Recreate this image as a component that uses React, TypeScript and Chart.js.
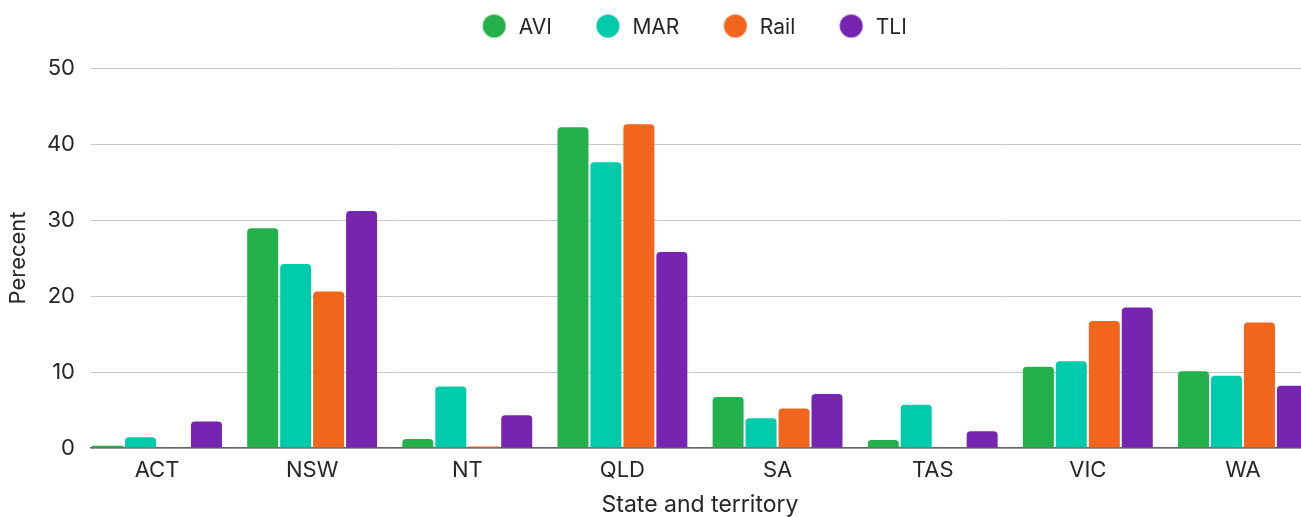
import React, { useEffect, useRef } from "react";
import { Chart, registerables } from "chart.js";

Chart.register(...registerables);

const categories = ["ACT", "NSW", "NT", "QLD", "SA", "TAS", "VIC", "WA"];
const seriesNames = ["AVI", "MAR", "Rail", "TLI"];
const aviValues = [0.3, 28.9, 1.2, 42.2, 6.7, 1.05, 10.7, 10.1];
const marValues = [1.4, 24.2, 8.1, 37.6, 3.9, 5.7, 11.4, 9.5];
const railValues = [0, 20.6, 0.2, 42.6, 5.2, 0, 16.7, 16.5];
const tliValues = [3.5, 31.2, 4.3, 25.8, 7.1, 2.2, 18.5, 8.2];
const seriesColors = ["#24b04a", "#00cbab", "#f1651d", "#7525b0"];
const yTicks = [0, 10, 20, 30, 40, 50];

const FONT = "Inter, 'Noto Sans', sans-serif";
const TEXT = "#262626";

function makeDot(color: string) {
  const c = document.createElement("canvas");
  c.width = 60;
  c.height = 28;
  const ctx = c.getContext("2d")!;
  ctx.fillStyle = color;
  ctx.beginPath();
  ctx.arc(46, 12.5, 11.5, 0, Math.PI * 2);
  ctx.fill();
  return c;
}

const legendTweak = {
  id: "legendTweak",
  beforeUpdate(chart: any) {
    const lg = chart.legend;
    if (lg && !lg.__patched) {
      const orig = Object.getPrototypeOf(lg).fit;
      lg.fit = function () {
        orig.call(this);
        this.height += 20;
      };
      lg.__patched = true;
    }
  },
  afterLayout(chart: any) {
    const lg = chart.legend;
    if (lg) {
      lg.left += 23;
      lg.right += 23;
    }
  },
};

export default function App() {
  const ref = useRef<HTMLCanvasElement | null>(null);

  useEffect(() => {
    if (!ref.current) return;
    const allValues = [aviValues, marValues, railValues, tliValues];
    const dots = seriesColors.map(makeDot);
    const chart = new Chart(ref.current, {
      type: "bar",
      data: {
        datasets: seriesNames.map((name, i) => ({
          label: name,
          data: allValues[i].map((v, j) => ({ x: j, y: v })),
          backgroundColor: seriesColors[i],
          borderWidth: 0,
          borderRadius: { topLeft: 4, topRight: 4, bottomLeft: 0, bottomRight: 0 },
          borderSkipped: "bottom",
          categoryPercentage: 0.85,
          barPercentage: 0.94,
        })),
      },
      plugins: [legendTweak],
      options: {
        animation: false,
        responsive: true,
        maintainAspectRatio: false,
        layout: { padding: { top: 7, right: 0, bottom: 0, left: 0 } },
        plugins: {
          legend: {
            position: "top",
            labels: {
              usePointStyle: true,
              pointStyleWidth: 60,
              boxHeight: 21,
              padding: 10,
              color: TEXT,
              font: { family: FONT, size: 21 },
              generateLabels: (c: any) =>
                Chart.defaults.plugins.legend.labels
                  .generateLabels(c)
                  .map((it: any, i: number) => ({ ...it, pointStyle: dots[i] })),
            },
          },
          tooltip: { enabled: false },
        },
        scales: {
          x: {
            type: "linear",
            min: -0.4254,
            max: 7.4256,
            offset: false,
            grid: { display: false, drawTicks: false },
            border: { display: true, color: "#666", width: 1.5 },
            afterFit: (s: any) => {
              s.height = 69;
            },
            afterBuildTicks: (s: any) => {
              s.ticks = categories.map((_, i) => ({ value: i }));
            },
            ticks: {
              autoSkip: false,
              maxRotation: 0,
              padding: 9,
              color: TEXT,
              font: { family: FONT, size: 22 },
              callback: (v: any) => categories[Number(v)] ?? "",
            },
            title: {
              display: true,
              text: "State and territory",
              color: TEXT,
              padding: { top: 0, bottom: 0 },
              font: { family: FONT, size: 23, lineHeight: 1.0 },
            },
          },
          y: {
            min: 0,
            max: 50,
            afterFit: (s: any) => {
              s.width = 91;
            },
            afterBuildTicks: (s: any) => {
              s.ticks = yTicks.map((v) => ({ value: v }));
            },
            grid: { color: "#c8c8c8", lineWidth: 1, drawTicks: false },
            border: { display: false },
            ticks: {
              padding: 16,
              color: TEXT,
              font: { family: FONT, size: 22 },
            },
            title: {
              display: true,
              text: "Perecent",
              color: TEXT,
              padding: { top: 5, bottom: 0 },
              font: { family: FONT, size: 22 },
            },
          },
        },
      },
    });
    return () => chart.destroy();
  }, []);

  return (
    <div
      style={{
        position: "fixed",
        left: 0,
        top: 0,
        width: 1301,
        height: 517,
        overflow: "hidden",
        background: "#fff",
      }}
    >
      <div style={{ position: "relative", width: 1309, height: 517 }}>
        <canvas ref={ref} />
      </div>
    </div>
  );
}
